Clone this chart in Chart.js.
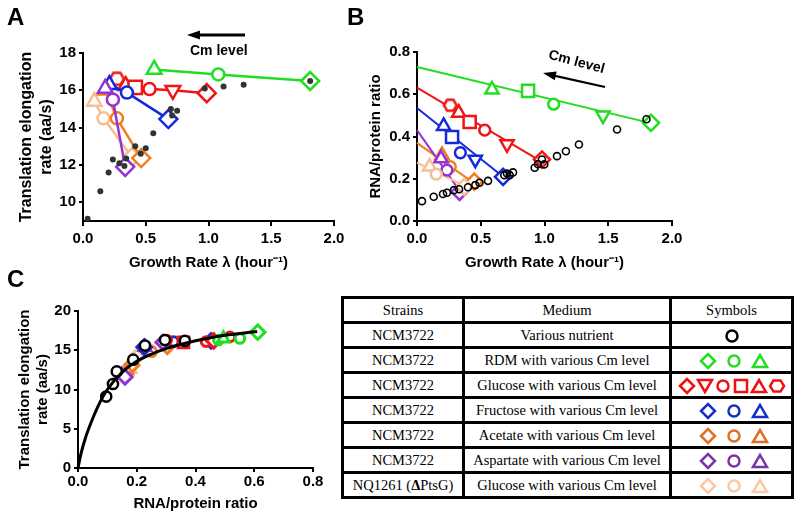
<!DOCTYPE html>
<html>
<head>
<meta charset="utf-8">
<script src="https://cdn.jsdelivr.net/npm/chart.js@4.4.0/dist/chart.umd.min.js"></script>
<style>
body { margin: 0; background: #fff; }
#page { position: relative; width: 800px; height: 518px; overflow: hidden; font-family: "Liberation Sans", Arial, sans-serif; }
.box { position: absolute; }
.lbl { position: absolute; font-weight: bold; font-size: 24px; line-height: 24px; }
.cm { position: absolute; font-weight: bold; font-size: 14px; line-height: 14px; white-space: nowrap; }
#tbl { position: absolute; left: 341px; top: 296px; width: 452px; border-collapse: collapse; table-layout: fixed;
       font-family: "Liberation Serif", "Times New Roman", serif; font-size: 14.5px; }
#tbl td { border: 3px solid #000; height: 22px; padding: 0; text-align: center; vertical-align: middle; white-space: nowrap; }
#tbl svg { display: block; margin: 0 auto; }
</style>
</head>
<body>
<div id="page">
  <div class="box" style="left:0;top:0"><canvas id="chartA" width="400" height="275"></canvas></div>
  <div class="box" style="left:340px;top:0"><canvas id="chartB" width="460" height="275"></canvas></div>
  <div class="box" style="left:0;top:280px"><canvas id="chartC" width="330" height="238"></canvas></div>

  <div class="lbl" style="left:7px;top:5px">A</div>
  <div class="lbl" style="left:347px;top:5px">B</div>
  <div class="lbl" style="left:7px;top:267px">C</div>

  <div class="cm" style="left:190px;top:43px">Cm level</div>
  <div class="cm" style="left:548px;top:54px;transform:rotate(15deg)">Cm level</div>

  <svg class="box" style="left:0;top:0" width="800" height="120">
    <line x1="245" y1="35" x2="198" y2="35" stroke="#000" stroke-width="2.8"/>
    <polygon points="187,35 200,30.5 200,39.5" fill="#000"/>
    <line x1="605" y1="87" x2="554" y2="75.6" stroke="#000" stroke-width="2.2"/>
    <polygon points="543,73 554.7,80.3 556.7,71.5" fill="#000"/>
  </svg>

  <table id="tbl">
    <colgroup><col style="width:121px"><col style="width:207px"><col style="width:122px"></colgroup>
    <tr><td>Strains</td><td>Medium</td><td>Symbols</td></tr>
    <tr><td>NCM3722</td><td>Various nutrient</td><td class="sym"></td></tr>
    <tr><td>NCM3722</td><td>RDM with various Cm level</td><td class="sym"></td></tr>
    <tr><td>NCM3722</td><td>Glucose with various Cm level</td><td class="sym"></td></tr>
    <tr><td>NCM3722</td><td>Fructose with various Cm level</td><td class="sym"></td></tr>
    <tr><td>NCM3722</td><td>Acetate with various Cm level</td><td class="sym"></td></tr>
    <tr><td>NCM3722</td><td>Aspartate with various Cm level</td><td class="sym"></td></tr>
    <tr><td>NQ1261 (<b>Δ</b>PtsG)</td><td>Glucose with various Cm level</td><td class="sym"></td></tr>
  </table>
</div>

<script>
// ---- panel A: growth rate (1/h) vs translation elongation rate (aa/s)
const aNutrientX = [0.037, 0.138, 0.204, 0.238, 0.29, 0.33, 0.344, 0.416, 0.46, 0.50, 0.56, 0.70, 0.75, 0.71, 0.97, 1.12, 1.28, 1.81];
const aNutrientY = [9.12, 10.6, 11.6, 12.3, 12.1, 11.95, 12.35, 13.0, 12.6, 12.9, 13.7, 15.0, 14.9, 14.65, 16.1, 16.2, 16.3, 16.5];

const aGreenX = [0.567, 1.078, 1.81];
const aGreenY = [17.12, 16.85, 16.5];
const aGreenShapes = ["tri", "circ", "dia"];

const aRedX = [0.27, 0.34, 0.416, 0.53, 0.716, 0.986];
const aRedY = [16.62, 16.25, 16.16, 16.07, 16.0, 15.85];
const aRedShapes = ["hex", "tri", "sq", "circ", "tridown", "dia"];

const aBlueX = [0.21, 0.35, 0.68];
const aBlueY = [16.3, 15.88, 14.46];
const aBlueShapes = ["tri", "circ", "dia"];

const aOrangeX = [0.18, 0.27, 0.464];
const aOrangeY = [16.0, 14.5, 12.37];
const aOrangeShapes = ["tri", "circ", "dia"];

const aPurpleX = [0.177, 0.238, 0.336];
const aPurpleY = [16.1, 15.5, 11.9];
const aPurpleShapes = ["tri", "circ", "dia"];

const aPeachX = [0.09, 0.164, 0.39];
const aPeachY = [15.4, 14.5, 12.42];
const aPeachShapes = ["tri", "circ", "dia"];

// ---- panel B: growth rate vs RNA/protein ratio
const bNutrientX = [0.039, 0.131, 0.204, 0.235, 0.29, 0.33, 0.40, 0.457, 0.49, 0.557, 0.685, 0.706, 0.727, 0.753, 0.923, 0.949, 0.98, 0.998, 1.098, 1.168, 1.27, 1.569, 1.80];
const bNutrientY = [0.094, 0.115, 0.128, 0.134, 0.146, 0.15, 0.16, 0.17, 0.181, 0.19, 0.217, 0.225, 0.217, 0.23, 0.252, 0.269, 0.291, 0.268, 0.307, 0.33, 0.362, 0.433, 0.482];

const bGreenX = [0.588, 0.871, 1.072, 1.459, 1.835];
const bGreenY = [0.622, 0.616, 0.553, 0.50, 0.465];
const bGreenShapes = ["tri", "sq", "circ", "tridown", "dia"];
const bGreenFitX = [0, 1.85];
const bGreenFitY = [0.729, 0.461];

const bRedX = [0.261, 0.327, 0.413, 0.531, 0.706, 0.98];
const bRedY = [0.548, 0.512, 0.469, 0.43, 0.364, 0.291];
const bRedShapes = ["hex", "tri", "sq", "circ", "tridown", "dia"];
const bRedFitX = [0, 0.97];
const bRedFitY = [0.631, 0.283];

const bBlueX = [0.209, 0.275, 0.34, 0.457, 0.675];
const bBlueY = [0.449, 0.398, 0.323, 0.291, 0.209];
const bBlueShapes = ["tri", "sq", "circ", "tridown", "dia"];
const bBlueFitX = [0, 0.68];
const bBlueFitY = [0.535, 0.207];

const bOrangeX = [0.196, 0.261, 0.449];
const bOrangeY = [0.312, 0.257, 0.186];
const bOrangeShapes = ["tri", "circ", "dia"];
const bOrangeFitX = [0, 0.47];
const bOrangeFitY = [0.37, 0.17];

const bPurpleX = [0.188, 0.235, 0.334];
const bPurpleY = [0.296, 0.241, 0.138];
const bPurpleShapes = ["tri", "circ", "dia"];
const bPurpleFitX = [0, 0.34];
const bPurpleFitY = [0.43, 0.138];

const bPeachX = [0.099, 0.151, 0.371];
const bPeachY = [0.257, 0.222, 0.162];
const bPeachShapes = ["tri", "circ", "dia"];
const bPeachFitX = [0, 0.39];
const bPeachFitY = [0.276, 0.162];

// ---- panel C: RNA/protein ratio vs elongation rate
const cFitX = [0, 0.01, 0.025, 0.05, 0.075, 0.1, 0.15, 0.2, 0.25, 0.3, 0.4, 0.5, 0.61];
const cFitY = [0, 1.8, 3.8, 6.3, 8.4, 10.0, 12.2, 13.6, 14.5, 15.2, 16.2, 16.9, 17.4];

const cNutrientX = [0.096, 0.119, 0.132, 0.188, 0.228, 0.296, 0.364];
const cNutrientY = [9.1, 10.7, 12.3, 13.8, 15.6, 16.3, 16.2];

const cGreenX = [0.612, 0.551, 0.478, 0.495];
const cGreenY = [17.3, 16.5, 16.3, 16.5];
const cGreenShapes = ["dia", "circ", "circ", "tri"];

const cRedX = [0.517, 0.436, 0.462, 0.359, 0.302];
const cRedY = [16.7, 16.1, 16.2, 16.0, 16.3];
const cRedShapes = ["circ", "circ", "dia", "sq", "circ"];

const cBlueX = [0.453, 0.325, 0.225];
const cBlueY = [16.2, 16.1, 15.4];
const cBlueShapes = ["dia", "circ", "dia"];

const cOrangeX = [0.304, 0.251, 0.183, 0.166];
const cOrangeY = [15.5, 14.8, 13.1, 12.4];
const cOrangeShapes = ["dia", "circ", "dia", "tri"];

const cPurpleX = [0.29, 0.228, 0.149, 0.16];
const cPurpleY = [16.0, 15.4, 11.85, 11.6];
const cPurpleShapes = ["dia", "tri", "tri", "dia"];

const cPeachX = [0.245, 0.177, 0.2];
const cPeachY = [15.1, 12.6, 14.2];
const cPeachShapes = ["circ", "tri", "dia"];

// ---- tick labels
const aTicksX = [0, 0.5, 1.0, 1.5, 2.0];
const aTicksY = [10, 12, 14, 16, 18];
const bTicksY = [0, 0.2, 0.4, 0.6, 0.8];
const cTicksX = [0, 0.2, 0.4, 0.6, 0.8];
const cTicksY = [0, 5, 10, 15, 20];

const GREEN = "#22dd22";
const RED = "#f01414";
const BLUE = "#1428dc";
const ORANGE = "#f07d1e";
const PURPLE = "#9632d2";
const PEACH = "#f6bf92";
const FONT = "'Liberation Sans', Arial, sans-serif";

const SHAPES = {
    circ: { style: "circle", r: 6, rot: 0 },
    dia: { style: "rectRot", r: 9, rot: 0 },
    tri: { style: "triangle", r: 8.5, rot: 0 },
    tridown: { style: "triangle", r: 8.5, rot: 180 },
    sq: { style: "rect", r: 9.5, rot: 0 },
    hex: { style: "hex", r: 7, rot: 0 }
};

const hexCache = {};
function hexImage(color, r, lw) {
    const key = color + r + lw;
    if (hexCache[key]) return hexCache[key];
    const size = Math.ceil(2 * r + lw + 2);
    const c = document.createElement("canvas");
    c.width = size;
    c.height = size;
    const g = c.getContext("2d");
    g.translate(size / 2, size / 2);
    g.beginPath();
    for (let i = 0; i < 6; i++) {
        const a = Math.PI / 3 * i;
        g.lineTo(r * Math.cos(a), r * Math.sin(a));
    }
    g.closePath();
    g.fillStyle = "#fff";
    g.fill();
    g.lineWidth = lw;
    g.strokeStyle = color;
    g.stroke();
    hexCache[key] = c;
    return c;
}

function points(xs, ys) {
    return xs.map((x, i) => ({ x: x, y: ys[i] }));
}

function markers(xs, ys, shapes, color, k, lw, lineWidth) {
    return {
        data: points(xs, ys),
        pointStyle: shapes.map(s => SHAPES[s].style === "hex" ? hexImage(color, SHAPES[s].r * k, lw) : SHAPES[s].style),
        pointRadius: shapes.map(s => SHAPES[s].r * k),
        pointRotation: shapes.map(s => SHAPES[s].rot),
        pointBorderColor: color,
        pointBackgroundColor: "#fff",
        pointBorderWidth: lw,
        borderColor: color,
        borderWidth: lineWidth || 0,
        showLine: !!lineWidth,
        clip: false
    };
}

function fitLine(xs, ys, color, width) {
    return {
        data: points(xs, ys),
        borderColor: color,
        borderWidth: width,
        pointRadius: 0,
        showLine: true,
        clip: false
    };
}

function dots(xs, ys, filled, r, lw) {
    return {
        data: points(xs, ys),
        pointStyle: "circle",
        pointRadius: r,
        pointBorderWidth: lw,
        pointBorderColor: filled ? "#333" : "#000",
        pointBackgroundColor: filled ? "#333" : "rgba(0,0,0,0)",
        showLine: false,
        clip: false
    };
}

function scale(o) {
    return {
        type: "linear",
        min: o.min,
        max: o.max,
        afterBuildTicks: s => { s.ticks = o.ticks.map(v => ({ value: v })); },
        afterFit: s => {
            if (o.width) s.width = o.width;
            if (o.height) s.height = o.height;
        },
        border: { display: true, color: "#000", width: 2 },
        grid: { display: true, drawOnChartArea: false, drawTicks: true, tickLength: o.tickLength, tickWidth: 2, tickColor: "#000", lineWidth: 2 },
        ticks: {
            color: "#000",
            padding: o.pad,
            font: { family: FONT, size: 15, weight: "bold" },
            callback: v => v.toFixed(o.dec)
        },
        title: {
            display: true,
            text: o.title,
            color: "#000",
            font: { family: FONT, size: o.titleSize || 15, weight: "bold", lineHeight: 1.25 },
            padding: o.titlePad
        }
    };
}

function options(padding, x, y) {
    return {
        responsive: false,
        animation: false,
        layout: { padding: padding },
        plugins: { legend: { display: false }, tooltip: { enabled: false } },
        scales: { x: x, y: y }
    };
}

new Chart(document.getElementById("chartA"), {
    type: "scatter",
    data: {
        datasets: [
            dots(aNutrientX, aNutrientY, true, 3, 0),
            markers(aPurpleX, aPurpleY, aPurpleShapes, PURPLE, 1, 2.5, 2.5),
            markers(aBlueX, aBlueY, aBlueShapes, BLUE, 1, 2.5, 2.5),
            markers(aRedX, aRedY, aRedShapes, RED, 1, 2.5, 2.5),
            markers(aGreenX, aGreenY, aGreenShapes, GREEN, 1, 2.5, 2.5),
            markers(aOrangeX, aOrangeY, aOrangeShapes, ORANGE, 1, 2.5, 2.5),
            markers(aPeachX, aPeachY, aPeachShapes, PEACH, 1, 2.5, 2.5)
        ]
    },
    options: options({ left: 0, top: 53, right: 66, bottom: 0 },
        scale({ min: 0, max: 2, ticks: aTicksX, dec: 1, height: 54, tickLength: 5, pad: 4,
                title: "Growth Rate λ (hour⁻¹)", titlePad: { top: 0, bottom: 3 } }),
        scale({ min: 9, max: 18, ticks: aTicksY, dec: 0, width: 83, tickLength: 4, pad: 3, titleSize: 16,
                title: ["Translation elongation", "rate (aa/s)"], titlePad: { top: 17, bottom: 0 } }))
});

new Chart(document.getElementById("chartB"), {
    type: "scatter",
    data: {
        datasets: [
            dots(bNutrientX, bNutrientY, false, 3.5, 1.6),
            markers(bPeachX, bPeachY, bPeachShapes, PEACH, 0.9, 2.5),
            markers(bPurpleX, bPurpleY, bPurpleShapes, PURPLE, 0.9, 2.5),
            markers(bOrangeX, bOrangeY, bOrangeShapes, ORANGE, 0.9, 2.5),
            markers(bBlueX, bBlueY, bBlueShapes, BLUE, 0.9, 2.5),
            markers(bRedX, bRedY, bRedShapes, RED, 0.9, 2.5),
            markers(bGreenX, bGreenY, bGreenShapes, GREEN, 0.9, 2.5),
            fitLine(bPeachFitX, bPeachFitY, PEACH, 2),
            fitLine(bPurpleFitX, bPurpleFitY, PURPLE, 2),
            fitLine(bOrangeFitX, bOrangeFitY, ORANGE, 2),
            fitLine(bBlueFitX, bBlueFitY, BLUE, 2),
            fitLine(bRedFitX, bRedFitY, RED, 2),
            fitLine(bGreenFitX, bGreenFitY, GREEN, 2)
        ]
    },
    options: options({ left: 0, top: 52, right: 128, bottom: 0 },
        scale({ min: 0, max: 2, ticks: aTicksX, dec: 1, height: 54, tickLength: 5, pad: 4,
                title: "Growth Rate λ (hour⁻¹)", titlePad: { top: 0, bottom: 3 } }),
        scale({ min: 0, max: 0.8, ticks: bTicksY, dec: 1, width: 77, tickLength: 4, pad: 3,
                title: "RNA/protein ratio", titlePad: { top: 26, bottom: 0 } }))
});

new Chart(document.getElementById("chartC"), {
    type: "scatter",
    data: {
        datasets: [
            {
                data: points(cFitX, cFitY),
                borderColor: "#000",
                borderWidth: 3,
                pointRadius: 0,
                showLine: true,
                cubicInterpolationMode: "monotone",
                clip: false
            },
            markers(cNutrientX, cNutrientY, cNutrientX.map(() => "circ"), "#000", 0.85, 2.5),
            markers(cGreenX, cGreenY, cGreenShapes, GREEN, 0.8, 3),
            markers(cRedX, cRedY, cRedShapes, RED, 0.8, 3),
            markers(cBlueX, cBlueY, cBlueShapes, BLUE, 0.8, 3),
            markers(cPurpleX, cPurpleY, cPurpleShapes, PURPLE, 0.8, 3),
            markers(cOrangeX, cOrangeY, cOrangeShapes, ORANGE, 0.8, 3),
            markers(cPeachX, cPeachY, cPeachShapes, PEACH, 0.8, 3)
        ]
    },
    options: options({ left: 0, top: 31, right: 17, bottom: 0 },
        scale({ min: 0, max: 0.8, ticks: cTicksX, dec: 1, height: 50, tickLength: 4, pad: 1,
                title: "RNA/protein ratio", titlePad: { top: 0, bottom: 5 } }),
        scale({ min: 0, max: 20, ticks: cTicksY, dec: 0, width: 78, tickLength: 4, pad: 3,
                title: ["Translation elongation", "rate (aa/s)"], titlePad: { top: 15, bottom: 0 } }))
});

// ---- symbols column of the table
const tableSymbols = [
    { color: "#000", shapes: ["circ"], gap: 26 },
    { color: "#22dd22", shapes: ["dia", "circ", "tri"], gap: 26 },
    { color: "#f01010", shapes: ["dia", "tridown", "circ", "sq", "tri", "hex"], gap: 18 },
    { color: "#1530c8", shapes: ["dia", "circ", "tri"], gap: 26 },
    { color: "#e07020", shapes: ["dia", "circ", "tri"], gap: 26 },
    { color: "#7a35a8", shapes: ["dia", "circ", "tri"], gap: 26 },
    { color: "#f8c9a4", shapes: ["dia", "circ", "tri"], gap: 26 }
];

function svgShape(s, cx, cy, color) {
    const st = `fill="none" stroke="${color}" stroke-width="2.5"`;
    if (s === "circ") return `<circle cx="${cx}" cy="${cy}" r="5.5" ${st}/>`;
    if (s === "dia") return `<polygon points="${cx - 7},${cy} ${cx},${cy - 7} ${cx + 7},${cy} ${cx},${cy + 7}" ${st}/>`;
    if (s === "tri") return `<polygon points="${cx - 7},${cy + 6} ${cx},${cy - 6} ${cx + 7},${cy + 6}" ${st}/>`;
    if (s === "tridown") return `<polygon points="${cx - 7},${cy - 6} ${cx},${cy + 6} ${cx + 7},${cy - 6}" ${st}/>`;
    if (s === "sq") return `<rect x="${cx - 6}" y="${cy - 6}" width="12" height="12" ${st}/>`;
    let p = [];
    for (let i = 0; i < 6; i++) {
        const a = Math.PI / 3 * i;
        p.push((cx + 7 * Math.cos(a)).toFixed(1) + "," + (cy + 6.5 * Math.sin(a)).toFixed(1));
    }
    return `<polygon points="${p.join(" ")}" ${st}/>`;
}

document.querySelectorAll("#tbl td.sym").forEach((td, i) => {
    const row = tableSymbols[i];
    const n = row.shapes.length;
    const w = 118;
    const start = w / 2 - (n - 1) * row.gap / 2 + (n === 3 ? 2 : 0);
    const body = row.shapes.map((s, j) => svgShape(s, start + j * row.gap, 10, row.color)).join("");
    td.innerHTML = `<svg width="${w}" height="19">${body}</svg>`;
});
</script>
</body>
</html>
